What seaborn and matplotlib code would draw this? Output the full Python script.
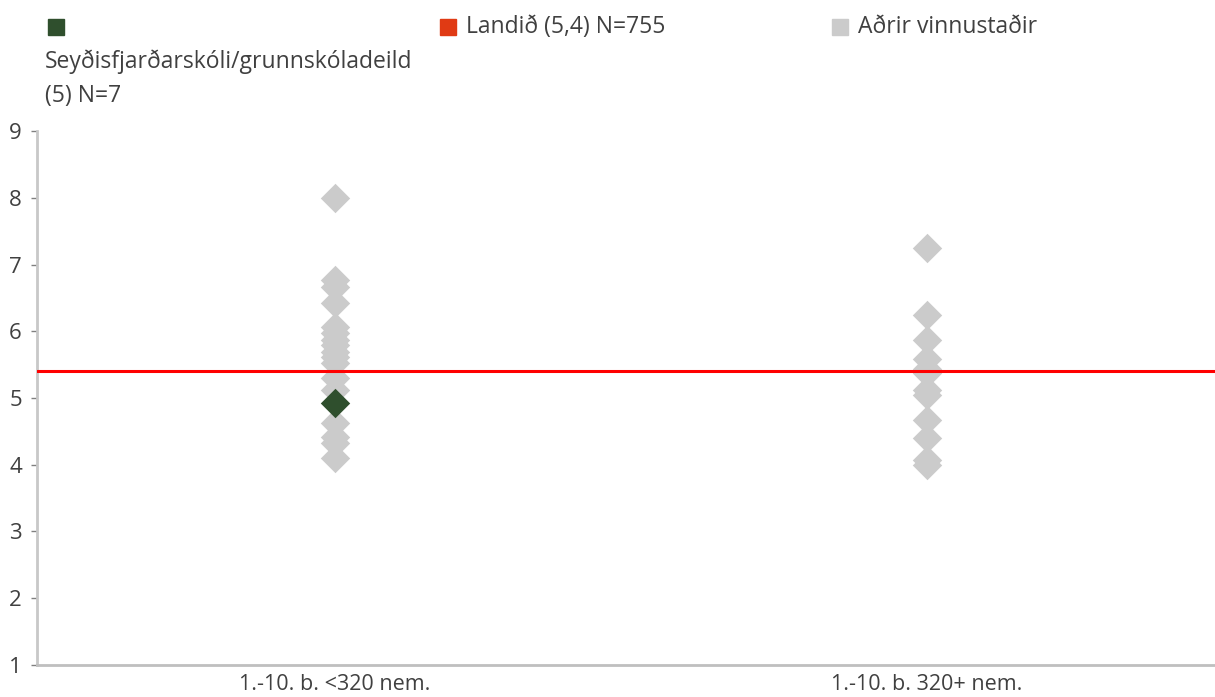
import matplotlib
matplotlib.use("Agg")
import matplotlib.pyplot as plt
import seaborn as sns
import pandas as pd

# --------------------------------------------------
# DATA
# --------------------------------------------------

categories = ["1.-10. b. <320 nem.", "1.-10. b. 320+ nem."]

small_school_values = [8.0, 6.77, 6.67, 6.43, 6.07, 5.97, 5.87, 5.79, 5.69,
                       5.62, 5.52, 5.30, 5.12, 4.62, 4.42, 4.32, 4.10]
large_school_values = [7.24, 6.24, 5.87, 5.59, 5.44, 5.37, 5.12, 5.04,
                       4.67, 4.40, 4.07, 4.00]

highlight_category = "1.-10. b. <320 nem."
highlight_value = 4.92

national_average = 5.4

legend_labels = ["Seyðisfjarðarskóli/grunnskóladeild\n(5) N=7",
                 "Landið (5,4) N=755",
                 "Aðrir vinnustaðir"]

GREEN = "#2F4F2D"
RED_LEGEND = "#E03A14"
RED_LINE = "#FF0000"
GRAY = "#CBCBCB"
TEXT = "#404040"

others = pd.DataFrame({
    "group": [categories[0]] * len(small_school_values)
             + [categories[1]] * len(large_school_values),
    "value": small_school_values + large_school_values,
})
highlight = pd.DataFrame({"group": [highlight_category], "value": [highlight_value]})

# --------------------------------------------------
# PLOT
# --------------------------------------------------

sns.set_style("white")
plt.rcParams["font.family"] = ["Open Sans", "DejaVu Sans"]

fig = plt.figure(figsize=(12.15, 6.97), dpi=100)
ax = fig.add_axes([0.0305, 0.046, 0.9695, 0.766])

sns.stripplot(data=others, x="group", y="value", order=categories,
              jitter=False, marker="D", color=GRAY, size=15,
              linewidth=0, ax=ax, zorder=2)
sns.stripplot(data=highlight, x="group", y="value", order=categories,
              jitter=False, marker="D", color=GREEN, size=15,
              linewidth=0, ax=ax, zorder=4)

ax.axhline(national_average, color=RED_LINE, linewidth=2.2, zorder=3)

ax.set_xlim(-0.503, 1.486)
ax.set_ylim(1, 9)
ax.set_yticks(range(1, 10))
ax.set_xlabel("")
ax.set_ylabel("")

for side in ["top", "right"]:
    ax.spines[side].set_visible(False)
ax.spines["left"].set_color("#C8C8C8")
ax.spines["left"].set_linewidth(2)
ax.spines["bottom"].set_color("#BFBFBF")
ax.spines["bottom"].set_linewidth(2)

ax.tick_params(axis="y", left=True, length=4, width=1, color="#808080",
               labelsize=16, labelcolor=TEXT, pad=7)
ax.tick_params(axis="x", bottom=False, labelsize=15.5, labelcolor=TEXT, pad=3)

# legend drawn as coloured squares with text
legend_colors = [GREEN, RED_LEGEND, GRAY]
legend_x = [48, 440, 832]
for x, color, label in zip(legend_x, legend_colors, legend_labels):
    fig.patches.append(plt.Rectangle((x / 1215, 1 - 35 / 697), 16 / 1215, 16 / 697,
                                     transform=fig.transFigure, color=color))
    if "\n" in label:
        fig.text(45 / 1215, 1 - 79 / 697, label, fontsize=16.5, color=TEXT,
                 va="center", ha="left", linespacing=1.55)
    else:
        fig.text((x + 26) / 1215, 1 - 27 / 697, label, fontsize=16.5,
                 color=TEXT, va="center", ha="left")

fig.savefig("out.png", dpi=100)
